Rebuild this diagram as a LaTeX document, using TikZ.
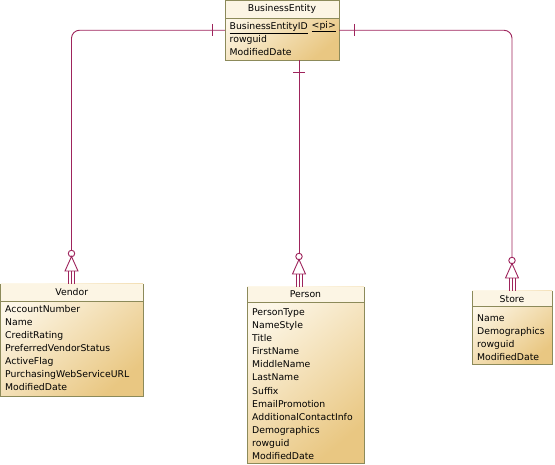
\documentclass[tikz,border=0pt]{standalone}
\usepackage{fontspec}
\setmainfont{DejaVu Sans}
\definecolor{relcol}{RGB}{158,36,92}
\definecolor{boxline}{RGB}{140,138,90}
\definecolor{boxlight}{RGB}{253,247,232}
\definecolor{boxdark}{RGB}{233,199,130}
\definecolor{titlecol}{RGB}{252,245,228}
\newcommand{\inhfoot}[2]{%
\draw[relline] (#1,#2-27.5) -- (#1-6.5,#2-13) -- (#1+6.5,#2-13) -- cycle;
\draw[relline] (#1-3,#2-13) -- (#1-3,#2) (#1,#2-13) -- (#1,#2) (#1+3,#2-13) -- (#1+3,#2);}

\begin{document}
\begin{tikzpicture}[x=1pt,y=-1pt,
  relline/.style={draw=relcol, line width=0.9pt},
  ring/.style={circle, draw=relcol, line width=0.9pt, fill=white, minimum size=6.5pt, inner sep=0pt},
  entbox/.style={draw=boxline, line width=0.9pt, top color=boxlight, bottom color=boxdark, shading angle=40, anchor=north west, inner sep=0pt, outer sep=0pt},
  enttitle/.style={font=\fontsize{9.3}{11}\selectfont, inner sep=0pt},
  entattr/.style={font=\fontsize{9.3}{13.1}\selectfont, align=left, anchor=north west, inner sep=0pt}]
\useasboundingbox (0,0) rectangle (555,465);
\node[entbox, minimum width=114pt, minimum height=59.5pt] (be) at (225,0.5) {};
\fill[titlecol] (225.5,1) rectangle (338.5,18);
\draw[boxline, line width=0.9pt] (225,18) -- (339,18);
\node[enttitle] (betitle) at (282,8.5) {BusinessEntity};
\node[entattr, font=\fontsize{9.3}{12.7}\selectfont] (beattr) at (229.5,22.5) {\underline{BusinessEntityID}\\rowguid\\ModifiedDate};
\node[enttitle, anchor=east] (bepi) at (336,26.5) {\underline{<pi>}};
\node[entbox, minimum width=142.5pt, minimum height=112pt] (vendor) at (0.5,284) {};
\fill[titlecol] (1,284.5) rectangle (142.5,301);
\draw[boxline, line width=0.9pt] (0.5,301) -- (143,301);
\node[enttitle] (vendortitle) at (71.75,292.5) {Vendor};
\node[entattr] (vendorattr) at (5,305) {AccountNumber\\Name\\CreditRating\\PreferredVendorStatus\\ActiveFlag\\PurchasingWebServiceURL\\ModifiedDate};
\node[entbox, minimum width=117pt, minimum height=176pt] (person) at (247,287) {};
\fill[titlecol] (247.5,287.5) rectangle (363.5,302);
\draw[boxline, line width=0.9pt] (247,302) -- (364,302);
\node[enttitle] (persontitle) at (305.5,294.5) {Person};
\node[entattr] (personattr) at (252,308.5) {PersonType\\NameStyle\\Title\\FirstName\\MiddleName\\LastName\\Suffix\\EmailPromotion\\AdditionalContactInfo\\Demographics\\rowguid\\ModifiedDate};
\node[entbox, minimum width=80pt, minimum height=73pt] (store) at (472,291) {};
\fill[titlecol] (472.5,291.5) rectangle (551.5,306);
\draw[boxline, line width=0.9pt] (472,306) -- (552,306);
\node[enttitle] (storetitle) at (512,299.5) {Store};
\node[entattr] (storeattr) at (477,314.5) {Name\\Demographics\\rowguid\\ModifiedDate};
\node[ring] (vring) at (71.5,253.5) {};
\node[ring] (pring) at (299,256.5) {};
\node[ring] (sring) at (512,260.5) {};
\draw[relline, rounded corners=8pt] (be.west) -- (be.west -| vring) -- (vring.north);
\draw[relline, rounded corners=8pt] (be.east) -- (be.east -| sring) -- (sring.north);
\draw[relline] (be.south -| pring) -- (pring.north);
\draw[relline] (212,24) -- (212,36);
\draw[relline] (354,24) -- (354,36);
\draw[relline] (293,72) -- (305,72);
\inhfoot{71.5}{284}
\inhfoot{299}{287}
\inhfoot{512}{291}
\end{tikzpicture}
\end{document}
